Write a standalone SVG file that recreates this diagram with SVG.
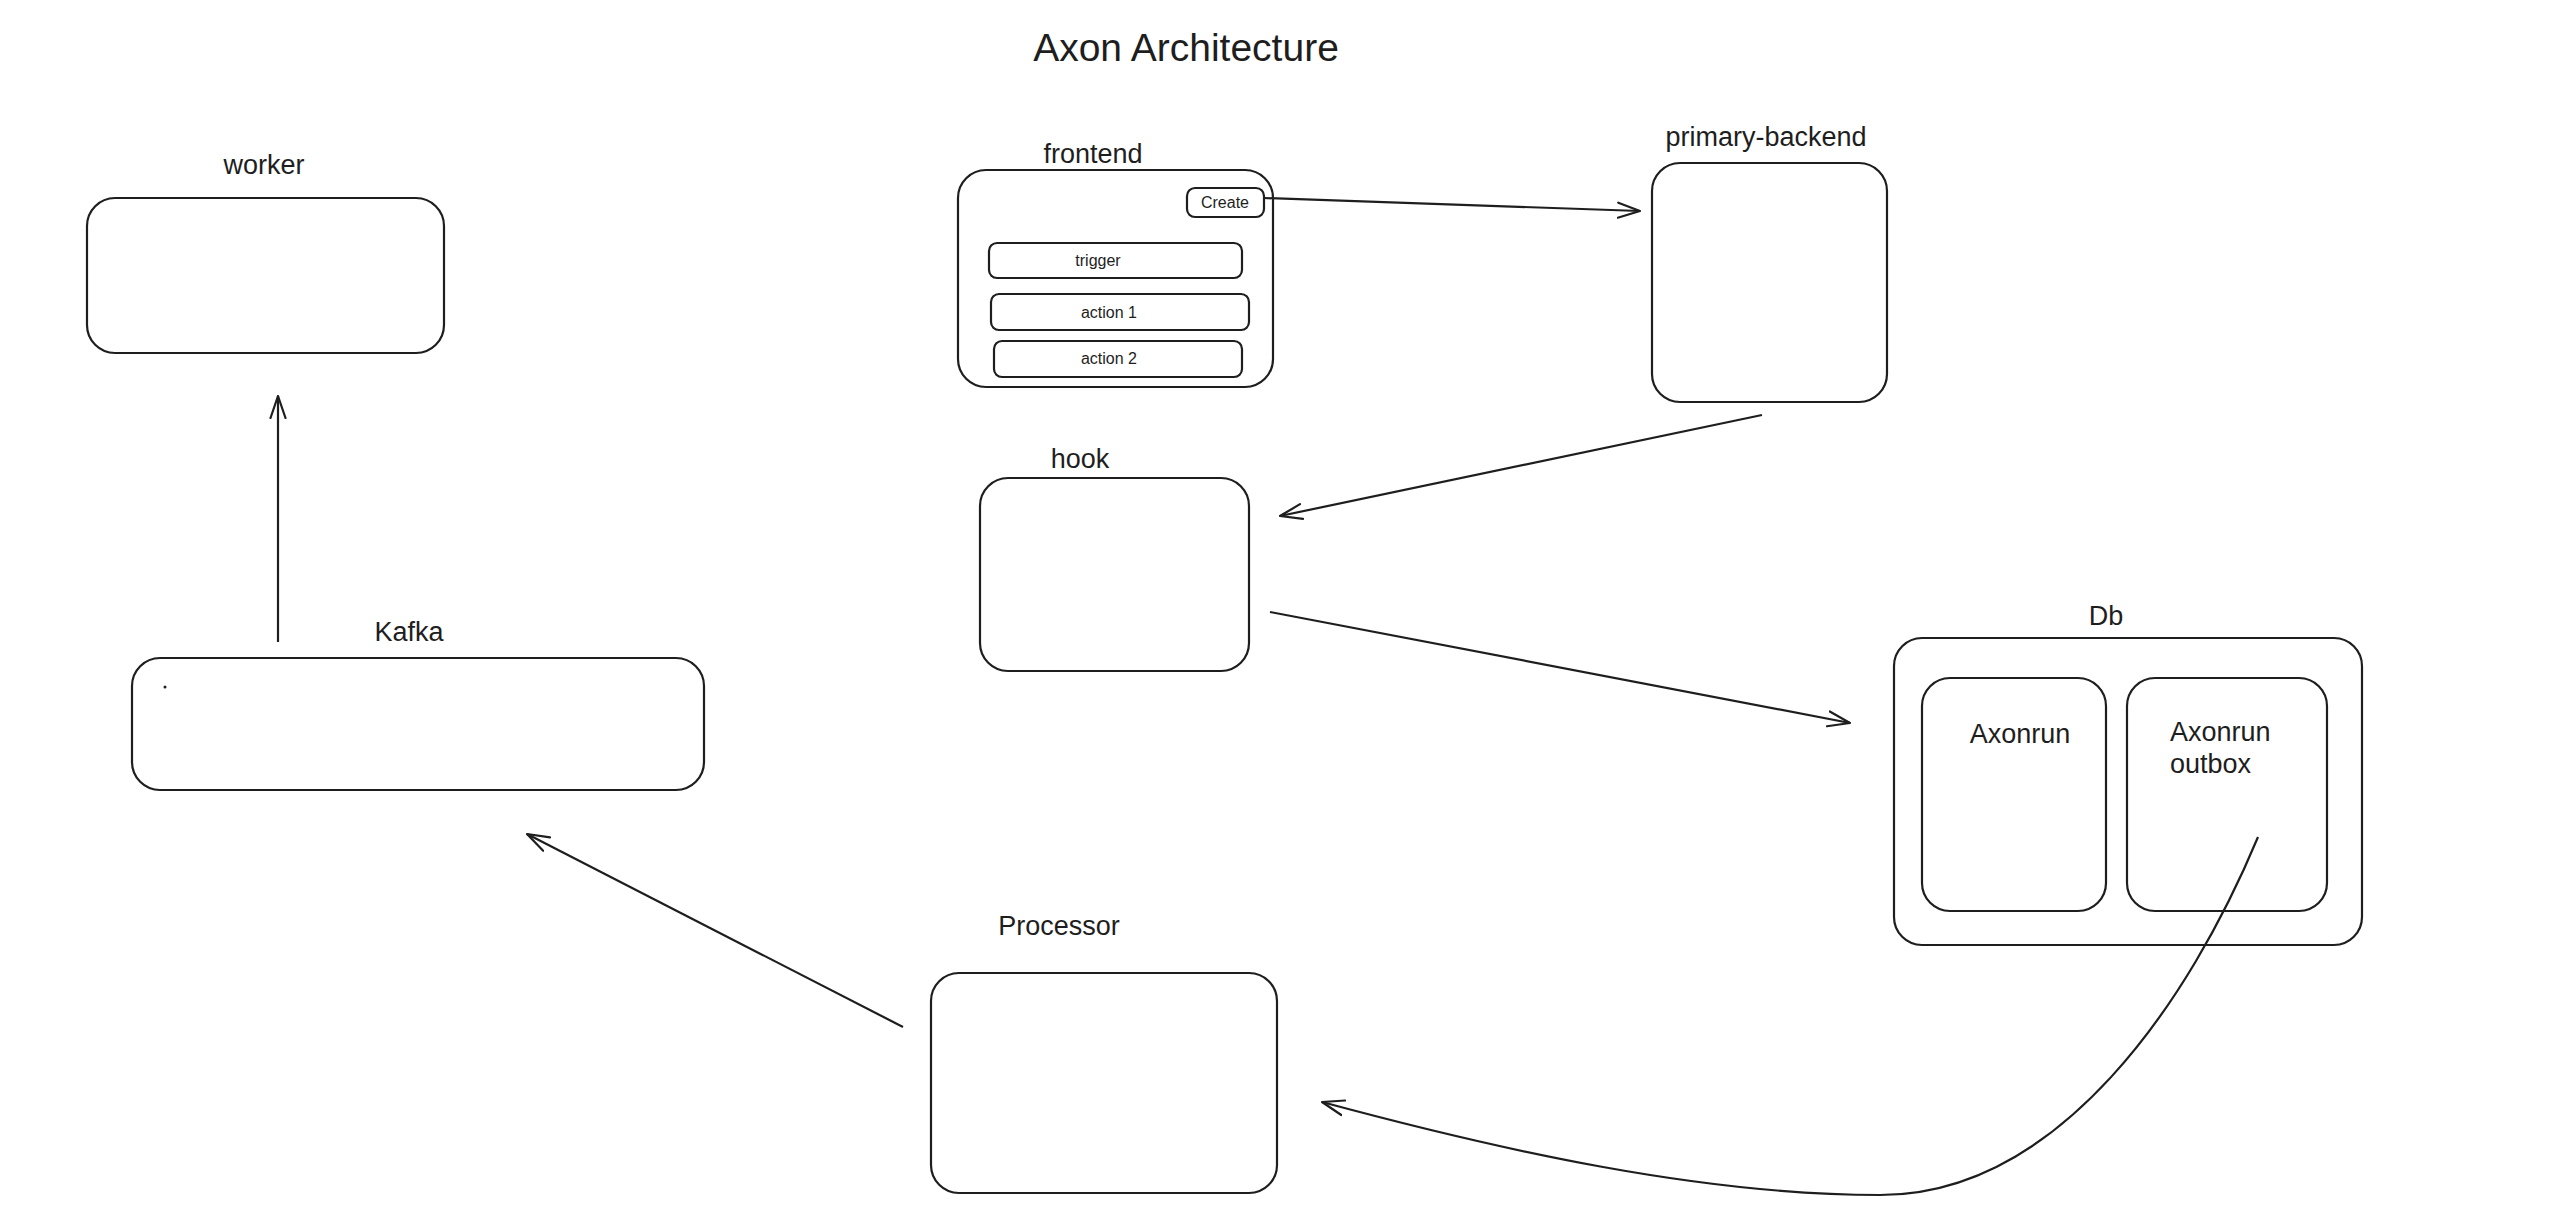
<svg xmlns="http://www.w3.org/2000/svg" width="2560" height="1206" viewBox="0 0 2560 1206">
<defs>
<style>
.box{fill:none;stroke:#1e1e1e;stroke-width:2.2}
.lbl{font-family:"Liberation Sans",Arial,sans-serif;fill:#1e1e1e;text-anchor:middle}
.big{font-size:27px}
.small{font-size:16px}
.title{font-size:39px}
.conn{fill:none;stroke:#1e1e1e;stroke-width:2.2}
</style>
<marker id="arr" viewBox="0 0 24 18" refX="23" refY="9" markerWidth="24" markerHeight="18" orient="auto" markerUnits="userSpaceOnUse">
<path d="M1,1.5 L23,9 L1,16.5" fill="none" stroke="#1e1e1e" stroke-width="2.2" stroke-linecap="round" stroke-linejoin="round"/>
</marker>
</defs>
<rect width="2560" height="1206" fill="#ffffff"/>
<text class="lbl title" x="1186" y="61">Axon Architecture</text>

<g id="worker">
<text class="lbl big" x="264" y="174">worker</text>
<rect class="box" x="87" y="198" width="357" height="155" rx="28"/>
</g>

<g id="kafka">
<text class="lbl big" x="409" y="641">Kafka</text>
<rect class="box" x="132" y="658" width="572" height="132" rx="28"/>
<circle cx="165" cy="687" r="1.5" fill="#1e1e1e"/>
</g>

<g id="frontend">
<text class="lbl big" x="1093" y="163">frontend</text>
<rect class="box" x="958" y="170" width="315" height="217" rx="28"/>
<g id="create">
<rect class="box" x="1187" y="188" width="77" height="29" rx="8"/>
<text class="lbl small" x="1225" y="208">Create</text>
</g>
<g id="trigger">
<rect class="box" x="989" y="243" width="253" height="35" rx="8"/>
<text class="lbl small" x="1098" y="266">trigger</text>
</g>
<g id="action1">
<rect class="box" x="991" y="294" width="258" height="36" rx="8"/>
<text class="lbl small" x="1109" y="318">action 1</text>
</g>
<g id="action2">
<rect class="box" x="994" y="341" width="248" height="36" rx="8"/>
<text class="lbl small" x="1109" y="364">action 2</text>
</g>
</g>

<g id="primary-backend">
<text class="lbl big" x="1766" y="146">primary-backend</text>
<rect class="box" x="1652" y="163" width="235" height="239" rx="28"/>
</g>

<g id="hook">
<text class="lbl big" x="1080" y="468">hook</text>
<rect class="box" x="980" y="478" width="269" height="193" rx="28"/>
</g>

<g id="db">
<text class="lbl big" x="2106" y="625">Db</text>
<rect class="box" x="1894" y="638" width="468" height="307" rx="28"/>
<g id="axonrun">
<rect class="box" x="1922" y="678" width="184" height="233" rx="28"/>
<text class="lbl big" x="2020" y="743">Axonrun</text>
</g>
<g id="axonrun-outbox">
<rect class="box" x="2127" y="678" width="200" height="233" rx="28"/>
<text class="lbl big" x="2170" y="741" text-anchor="start" style="text-anchor:start">Axonrun</text>
<text class="lbl big" x="2170" y="773" text-anchor="start" style="text-anchor:start">outbox</text>
</g>
</g>

<g id="processor">
<text class="lbl big" x="1059" y="935">Processor</text>
<rect class="box" x="931" y="973" width="346" height="220" rx="28"/>
</g>

<g id="connectors">
<path class="conn" d="M278,642 L278,396" marker-end="url(#arr)"/>
<path class="conn" d="M1264,198 L1640,211" marker-end="url(#arr)"/>
<path class="conn" d="M1762,415 L1280,516" marker-end="url(#arr)"/>
<path class="conn" d="M1270,612 L1850,723" marker-end="url(#arr)"/>
<path class="conn" d="M903,1027 L527,834" marker-end="url(#arr)"/>
<path class="conn" d="M2258,837 C2190,1000 2060,1195 1880,1195 C1700,1195 1500,1150 1322,1102" marker-end="url(#arr)"/>
</g>
</svg>
